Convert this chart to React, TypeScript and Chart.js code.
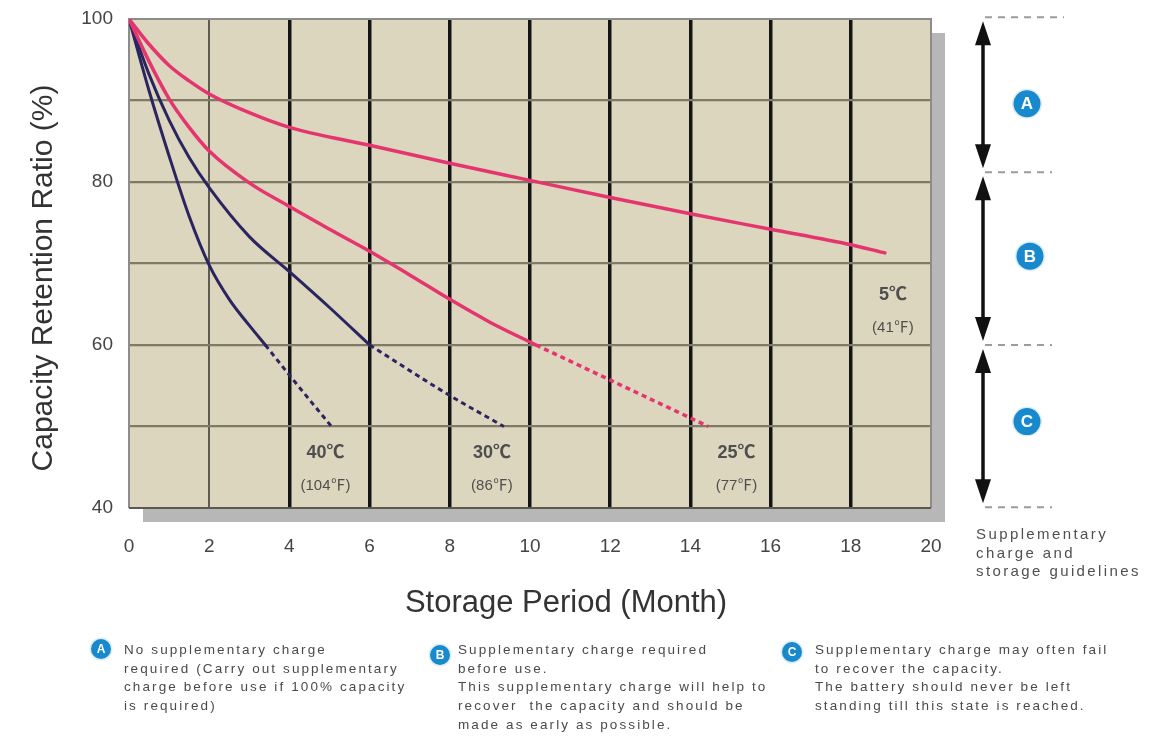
import React, { useEffect, useRef } from 'react';
import { Chart, registerables } from 'chart.js';

Chart.register(...registerables);

const FONT = "'Liberation Sans', Arial, 'Noto Sans CJK SC', sans-serif";
const SYM_FONT = "'Liberation Sans', Arial, 'Noto Sans CJK SC', sans-serif";

// ---------------- data ----------------
const xTickLabels = [0, 2, 4, 6, 8, 10, 12, 14, 16, 18, 20];
const yTickLabels = [40, 60, 80, 100];

const months5C = [0, 0.5, 1, 1.5, 2, 3, 4, 6, 8, 10, 12, 14, 16, 18, 18.85];
const retention5C = [100, 96.9, 94.3, 92.4, 90.8, 88.5, 86.7, 84.5, 82.3, 80.2, 78.1, 76.1, 74.2, 72.3, 71.3];

const months25C = [0, 0.5, 1, 1.5, 2, 3, 4, 5, 6, 7, 8, 9, 10.15];
const retention25C = [100, 94.8, 90.2, 86.7, 83.8, 79.9, 77.0, 74.2, 71.5, 68.6, 65.6, 62.8, 60];
const months25CDotted = [10.15, 14.45];
const retention25CDotted = [60, 50];

const months30C = [0, 0.5, 1, 1.5, 2, 3, 4, 5, 6];
const retention30C = [100, 93.2, 87.6, 83.0, 79.3, 73.3, 69.0, 64.6, 60];
const months30CDotted = [6, 8, 9.35];
const retention30CDotted = [60, 53.8, 50];

const months40C = [0, 0.5, 1, 1.5, 2, 2.5, 3, 3.4];
const retention40C = [100, 91.2, 83.2, 75.8, 69.8, 65.6, 62.4, 60];
const months40CDotted = [3.4, 4, 5.05];
const retention40CDotted = [60, 56.3, 50];

const curveLabelsC = ['40℃', '30℃', '25℃', '5℃'];
const curveLabelsF = ['(104℉)', '(86℉)', '(77℉)', '(41℉)'];
const curveLabelMonths = [4.9, 9.05, 15.15, 19.05];
const curveLabelValues = [46.8, 46.8, 46.8, 66.1];

const zoneLetters = ['A', 'B', 'C'];
const zoneBounds = [100.2, 81.2, 60, 40.1];
const zoneBadgeValues = [89.6, 70.9, 50.6];

const sideNote = ['Supplementary', 'charge and', 'storage guidelines'];
const notesA = [
  'No supplementary charge',
  'required (Carry out supplementary',
  'charge before use if 100% capacity',
  'is required)',
];
const notesB = [
  'Supplementary charge required',
  'before use.',
  'This supplementary charge will help to',
  'recover  the capacity and should be',
  'made as early as possible.',
];
const notesC = [
  'Supplementary charge may often fail',
  'to recover the capacity.',
  'The battery should never be left',
  'standing till this state is reached.',
];

const xTitle = 'Storage Period (Month)';
const yTitle = 'Capacity Retention Ratio (%)';

// ---------------- helpers ----------------
const zip = (xs: number[], ys: number[]) => xs.map((x, i) => ({ x, y: ys[i] }));

const PINK = '#e4356f';
const NAVY = '#2a2560';
const BLUE = '#1789cc';

function badge(ctx: CanvasRenderingContext2D, x: number, y: number, r: number, letter: string, size: number) {
  ctx.save();
  ctx.beginPath();
  ctx.arc(x, y, r + 1.5, 0, Math.PI * 2);
  ctx.fillStyle = 'rgba(200,225,240,0.6)';
  ctx.fill();
  ctx.beginPath();
  ctx.arc(x, y, r, 0, Math.PI * 2);
  ctx.fillStyle = BLUE;
  ctx.fill();
  ctx.fillStyle = '#ffffff';
  ctx.font = `bold ${size}px ${FONT}`;
  ctx.textAlign = 'center';
  ctx.textBaseline = 'middle';
  ctx.fillText(letter, x, y + 1);
  ctx.restore();
}

function arrow(ctx: CanvasRenderingContext2D, x: number, y1: number, y2: number) {
  const hw = 8;
  const hh = 24;
  ctx.save();
  ctx.strokeStyle = '#111';
  ctx.fillStyle = '#111';
  ctx.lineWidth = 3.5;
  ctx.beginPath();
  ctx.moveTo(x, y1 + hh - 2);
  ctx.lineTo(x, y2 - hh + 2);
  ctx.stroke();
  ctx.beginPath();
  ctx.moveTo(x, y1);
  ctx.lineTo(x - hw, y1 + hh);
  ctx.lineTo(x + hw, y1 + hh);
  ctx.closePath();
  ctx.fill();
  ctx.beginPath();
  ctx.moveTo(x, y2);
  ctx.lineTo(x - hw, y2 - hh);
  ctx.lineTo(x + hw, y2 - hh);
  ctx.closePath();
  ctx.fill();
  ctx.restore();
}

function noteBlock(ctx: CanvasRenderingContext2D, lines: string[], x: number, y: number) {
  ctx.save();
  ctx.fillStyle = '#4a4a4a';
  ctx.font = `13.5px ${FONT}`;
  (ctx as any).letterSpacing = '2.1px';
  ctx.textAlign = 'left';
  ctx.textBaseline = 'middle';
  lines.forEach((t, i) => ctx.fillText(t, x, y + i * 18.8));
  ctx.restore();
}

const decorPlugin = {
  id: 'decor',
  beforeDraw(chart: any) {
    const { ctx, chartArea: a } = chart;
    ctx.save();
    ctx.fillStyle = '#ffffff';
    ctx.fillRect(0, 0, chart.width, chart.height);
    ctx.fillStyle = '#b7b7b7';
    ctx.fillRect(a.left + 14, a.top + 14, a.right - a.left, a.bottom - a.top);
    ctx.fillStyle = '#ddd6be';
    ctx.fillRect(a.left, a.top, a.right - a.left, a.bottom - a.top);
    ctx.restore();
  },
  beforeDatasetsDraw(chart: any) {
    const { ctx, chartArea: a } = chart;
    ctx.save();
    ctx.lineWidth = 2;
    ctx.strokeStyle = '#8c8c8c';
    ctx.beginPath();
    ctx.moveTo(a.left, a.bottom);
    ctx.lineTo(a.left, a.top);
    ctx.lineTo(a.right, a.top);
    ctx.lineTo(a.right, a.bottom);
    ctx.stroke();
    ctx.strokeStyle = '#5a5a52';
    ctx.beginPath();
    ctx.moveTo(a.left, a.bottom);
    ctx.lineTo(a.right, a.bottom);
    ctx.stroke();
    ctx.restore();
  },
  afterDraw(chart: any) {
    const { ctx } = chart;
    const xs = chart.scales.x;
    const ys = chart.scales.y;
    ctx.save();

    // curve labels
    ctx.fillStyle = '#4e4e4e';
    ctx.textAlign = 'center';
    ctx.textBaseline = 'middle';
    curveLabelsC.forEach((c, i) => {
      const px = xs.getPixelForValue(curveLabelMonths[i]);
      const py = ys.getPixelForValue(curveLabelValues[i]);
      ctx.font = `bold 18px ${SYM_FONT}`;
      ctx.fillText(c, px, py);
      ctx.font = `15px ${SYM_FONT}`;
      ctx.fillText(curveLabelsF[i], px, py + 33);
    });

    // axis titles
    ctx.fillStyle = '#333333';
    ctx.font = `31px ${FONT}`;
    ctx.textAlign = 'center';
    ctx.textBaseline = 'middle';
    ctx.fillText(xTitle, 566, 603);
    ctx.save();
    ctx.translate(44, 278);
    ctx.rotate(-Math.PI / 2);
    ctx.font = `30px ${FONT}`;
    ctx.fillText(yTitle, 0, 0);
    ctx.restore();

    // right side guideline zones
    const ax = 983;
    ctx.save();
    ctx.strokeStyle = '#9c9c9c';
    ctx.lineWidth = 2;
    ctx.setLineDash([7, 6]);
    zoneBounds.forEach((v, i) => {
      const py = ys.getPixelForValue(v);
      ctx.beginPath();
      ctx.moveTo(ax + 2, py);
      ctx.lineTo(i === 0 ? 1064 : 1052, py);
      ctx.stroke();
    });
    ctx.restore();
    for (let i = 0; i < 3; i++) {
      const top = ys.getPixelForValue(zoneBounds[i]);
      const bot = ys.getPixelForValue(zoneBounds[i + 1]);
      arrow(ctx, ax, top + 4, bot - 4);
      badge(ctx, i === 1 ? 1030 : 1027, ys.getPixelForValue(zoneBadgeValues[i]), 13.5, zoneLetters[i], 17);
    }

    ctx.save();
    ctx.fillStyle = '#505050';
    ctx.font = `15px ${FONT}`;
    (ctx as any).letterSpacing = '2.4px';
    ctx.textAlign = 'left';
    ctx.textBaseline = 'middle';
    sideNote.forEach((t, i) => ctx.fillText(t, 976, 535 + i * 18.5));
    ctx.restore();

    // bottom notes
    badge(ctx, 101, 649, 10, zoneLetters[0], 12);
    noteBlock(ctx, notesA, 124, 650);
    badge(ctx, 440, 655, 10, zoneLetters[1], 12);
    noteBlock(ctx, notesB, 458, 650);
    badge(ctx, 792, 652, 10, zoneLetters[2], 12);
    noteBlock(ctx, notesC, 815, 650);

    ctx.restore();
  },
};

export default function App() {
  const ref = useRef<HTMLCanvasElement | null>(null);

  useEffect(() => {
    if (!ref.current) return;
    const solid = (data: any[], color: string, w: number) => ({
      data,
      borderColor: color,
      borderWidth: w,
      pointRadius: 0,
      fill: false,
      tension: 0.4,
      cubicInterpolationMode: 'monotone' as const,
      borderCapStyle: 'round' as const,
    });
    const dotted = (data: any[], color: string, w: number) => ({
      data,
      borderColor: color,
      borderWidth: w,
      pointRadius: 0,
      fill: false,
      tension: 0.4,
      cubicInterpolationMode: 'monotone' as const,
      borderDash: [5, 4],
    });

    const chart = new Chart(ref.current, {
      type: 'line',
      data: {
        datasets: [
          solid(zip(months5C, retention5C), PINK, 3.5),
          solid(zip(months25C, retention25C), PINK, 3.5),
          dotted(zip(months25CDotted, retention25CDotted), PINK, 3.5),
          solid(zip(months30C, retention30C), NAVY, 3),
          dotted(zip(months30CDotted, retention30CDotted), NAVY, 3),
          solid(zip(months40C, retention40C), NAVY, 3),
          dotted(zip(months40CDotted, retention40CDotted), NAVY, 3),
        ] as any,
      },
      options: {
        responsive: false,
        animation: false,
        layout: { padding: { left: 0, top: 19, right: 239, bottom: 0 } },
        plugins: {
          legend: { display: false },
          tooltip: { enabled: false },
          title: { display: false },
        },
        elements: { point: { radius: 0 } },
        scales: {
          x: {
            type: 'linear',
            min: 0,
            max: 20,
            ticks: {
              stepSize: 2,
              autoSkip: false,
              padding: 27,
              color: '#444444',
              font: { family: FONT, size: 19 },
              callback: (v: any) => (xTickLabels.includes(Number(v)) ? String(v) : ''),
            },
            grid: {
              drawTicks: false,
              color: (c: any) => {
                const v = c.tick?.value;
                if (v === 0 || v === 20) return 'rgba(0,0,0,0)';
                if (v === 2) return '#5e5b50';
                return '#141414';
              },
              lineWidth: (c: any) => (c.tick?.value === 2 ? 2 : 3.5),
            },
            border: { display: false },
            afterFit: (s: any) => {
              s.height = 239;
              s.paddingLeft = 0;
              s.paddingRight = 0;
            },
          },
          y: {
            type: 'linear',
            min: 40,
            max: 100,
            ticks: {
              stepSize: 10,
              autoSkip: false,
              padding: 16,
              color: '#444444',
              font: { family: FONT, size: 19 },
              callback: (v: any) => (yTickLabels.includes(Number(v)) ? String(v) : ''),
            },
            grid: {
              drawTicks: false,
              color: (c: any) => {
                const v = c.tick?.value;
                if (v === 40 || v === 100) return 'rgba(0,0,0,0)';
                return '#7f7a66';
              },
              lineWidth: 2.2,
            },
            border: { display: false },
            afterFit: (s: any) => {
              s.width = 129;
              s.paddingTop = 0;
              s.paddingBottom = 0;
            },
          },
        },
      } as any,
      plugins: [decorPlugin],
    });
    return () => chart.destroy();
  }, []);

  return (
    <div style={{ position: 'absolute', left: 0, top: 0, width: 1170, height: 747, background: '#fff' }}>
      <canvas ref={ref} width={1170} height={747} style={{ display: 'block', width: 1170, height: 747 }} />
    </div>
  );
}
